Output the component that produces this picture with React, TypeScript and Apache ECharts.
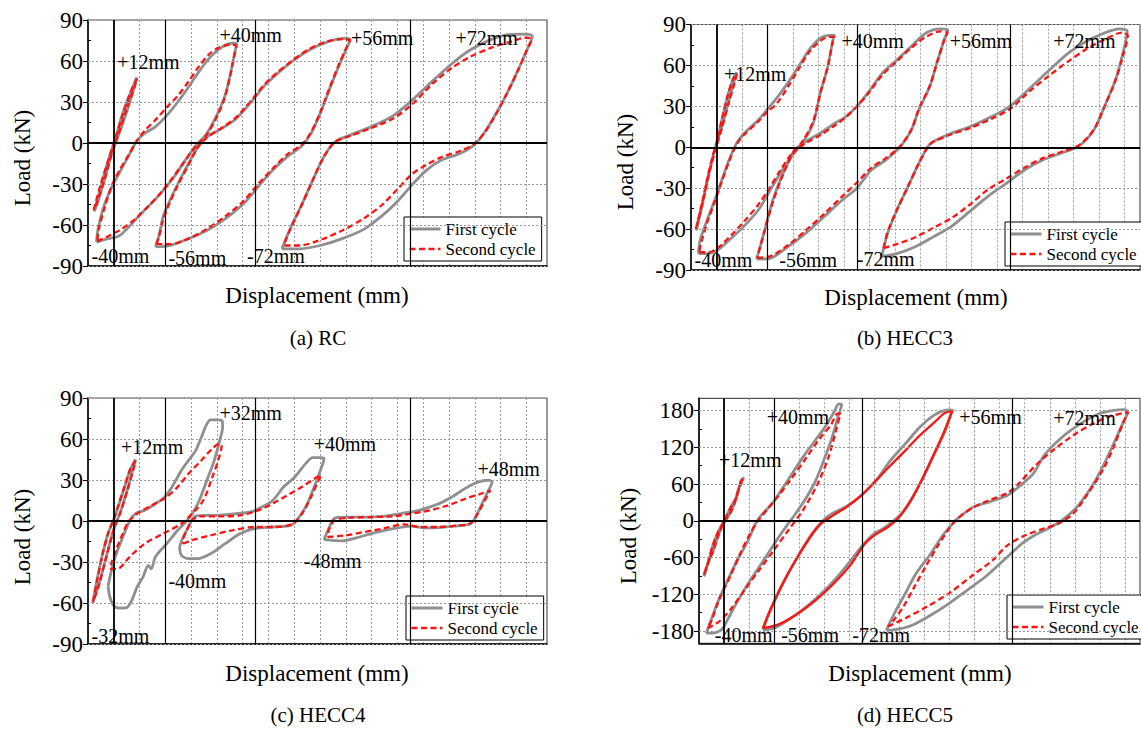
import React, { useEffect, useRef } from 'react';
import * as echarts from 'echarts';

type Pt = [number, number];
type Note = [number, number, string];

// Horizontal axis: displacement stages laid side by side (grid-cell units), vertical axis: load (kN).

// ---------- (a) RC ----------
const rcFirst12: Pt[] = [[0.24,-50],[0.50,-32],[0.78,-13],[1.04,2],[1.35,22],[1.63,36],[1.89,48],[1.80,41],[1.52,24],[1.21,7],[0.92,-8],[0.64,-27],[0.35,-45]];
const rcFirst40: Pt[] = [[0.33,-72.6],[0.78,-70],[1.21,-68],[1.70,-59],[2.20,-49],[2.77,-38],[3.33,-25],[3.76,-13],[4.18,-2],[4.61,7],[5.04,22],[5.32,35],[5.53,51],[5.67,64],[5.77,73],[5.60,73],[5.18,70],[4.75,63],[4.33,53],[3.90,41],[3.48,30],[3.05,20],[2.62,12],[2.20,7],[1.91,2],[1.56,-10],[1.21,-22],[0.85,-35],[0.57,-49],[0.38,-64]];
const rcFirst56: Pt[] = [[2.62,-76],[3.19,-75],[3.90,-70],[4.61,-64],[5.32,-55.5],[6.03,-44.5],[6.60,-32],[7.16,-20],[7.73,-10],[8.30,-2],[8.65,7],[9.0,21.5],[9.36,39],[9.72,56],[10.0,68],[10.17,76],[9.93,76.5],[9.29,74],[8.58,68],[7.87,59],[7.30,50],[6.85,42],[6.5,34],[6.1,25],[5.7,17],[5.18,10.5],[4.61,4.4],[4.26,-3],[3.90,-15],[3.48,-30],[3.12,-44.5],[2.91,-54],[2.77,-66.5]];
const rcFirst72: Pt[] = [[7.52,-77.5],[8.16,-77.5],[9.0,-75],[9.86,-70],[10.71,-63],[11.42,-53],[11.99,-43],[12.55,-31],[13.12,-20],[13.69,-12.7],[14.40,-7.8],[14.96,-1.7],[15.39,8],[15.82,21.5],[16.24,36],[16.67,53],[17.02,68],[17.23,78],[16.95,79.7],[16.38,79.5],[15.67,76],[14.82,68],[14.11,58],[13.40,46],[12.55,31],[11.84,20],[10.99,12],[10.14,5.6],[9.57,0.7],[9.15,-10],[8.72,-27],[8.30,-44.5],[7.87,-61.6],[7.59,-74]];
const rcSecond12: Pt[] = [[0.22,-49],[0.48,-31],[0.80,-12],[1.06,3],[1.37,22],[1.65,37],[1.90,47],[1.82,42],[1.50,25],[1.20,8],[0.90,-9],[0.62,-28],[0.34,-44]];
const rcSecond40: Pt[] = [[0.36,-72],[0.80,-68],[1.30,-63],[1.80,-56],[2.30,-47],[2.80,-37],[3.30,-25],[3.76,-13],[4.20,-2],[4.60,6],[5.02,20],[5.30,33],[5.52,50],[5.66,63],[5.75,71],[5.55,72],[5.10,70],[4.70,65],[4.30,56],[3.90,45],[3.50,35],[3.10,27],[2.62,17],[2.20,9],[1.91,2],[1.60,-8],[1.25,-19],[0.95,-30],[0.65,-47],[0.42,-63]];
const rcSecond56: Pt[] = [[2.65,-74],[3.2,-74],[3.9,-70],[4.6,-63],[5.3,-54],[6.0,-43],[6.6,-30],[7.2,-18],[7.75,-8],[8.3,-1],[8.65,8],[9.0,22],[9.36,40],[9.72,57],[10.0,69],[10.15,75],[9.9,76],[9.3,74.5],[8.6,69],[7.9,60],[7.3,51],[6.85,43],[6.5,35],[6.1,26],[5.7,18],[5.18,11],[4.61,4],[4.26,-3],[3.90,-16],[3.48,-31],[3.12,-46],[2.9,-57],[2.76,-68]];
const rcSecond72: Pt[] = [[7.62,-75],[8.2,-75],[9.0,-71],[9.86,-64],[10.71,-55],[11.42,-45],[11.99,-34],[12.55,-23],[13.12,-16],[13.69,-10.5],[14.40,-6],[14.96,-1],[15.39,8],[15.82,21],[16.24,36],[16.67,53],[17.02,68],[17.2,76],[16.95,77],[16.38,74],[15.67,70],[14.82,63],[14.11,55],[13.40,44],[12.55,28],[11.84,18],[10.99,11],[10.14,5],[9.57,0.7],[9.15,-10],[8.72,-27],[8.30,-45],[7.87,-62],[7.65,-72]];
const rcNotes: Note[] = [[1.13,59,'+12mm'],[5.1,79,'+40mm'],[10.2,77,'+56mm'],[14.25,77,'+72mm'],[0.14,-83,'-40mm'],[3.12,-84,'-56mm'],[6.17,-83,'-72mm']];

// ---------- (b) HECC3 ----------
const h3First12: Pt[] = [[0.21,-61],[0.43,-43.6],[0.64,-24],[0.86,-6.9],[1.0,2.9],[1.21,20],[1.43,37],[1.64,49.5],[1.79,55],[1.71,49.5],[1.5,35],[1.21,15],[0.93,-2],[0.71,-19],[0.47,-39],[0.24,-58]];
const h3First40: Pt[] = [[0.29,-78],[0.64,-78],[1.07,-75],[1.5,-68],[2.07,-58],[2.64,-46],[3.07,-32.6],[3.5,-19],[3.93,-6.9],[4.36,2.9],[4.79,17.6],[5.07,39.7],[5.36,59],[5.57,79],[5.64,82],[5.43,82],[5.07,80],[4.64,71.6],[4.21,59],[3.79,47],[3.36,36],[3.0,28],[2.64,20],[2.07,10],[1.79,3],[1.5,-9],[1.21,-24],[0.93,-38.7],[0.64,-53],[0.36,-68]];
const h3First56: Pt[] = [[2.57,-82],[3.07,-81.6],[3.79,-73],[4.5,-63],[5.21,-51],[5.93,-38.7],[6.5,-30],[7.07,-16.7],[7.64,-9.3],[8.21,0.5],[8.64,12.7],[8.93,27.5],[9.36,44.6],[9.64,61.8],[9.93,79],[10.07,86],[9.79,86.8],[9.21,83.8],[8.64,74],[8.07,64],[7.5,54.4],[6.93,39.7],[6.5,30],[6.07,22.5],[5.64,17.6],[5.07,10.3],[4.5,4.2],[4.07,-2],[3.79,-11.8],[3.5,-24],[3.21,-38.7],[2.93,-58],[2.71,-73]];
const h3First72: Pt[] = [[7.47,-80],[8.07,-78],[8.79,-73],[9.5,-65.7],[10.21,-58],[10.93,-47],[11.64,-36],[12.36,-26.5],[13.07,-16.7],[13.79,-9.3],[14.5,-4.4],[15.21,1],[15.79,12.7],[16.21,30],[16.64,49.5],[16.93,69],[17.1,85],[16.79,86.8],[16.21,83.8],[15.5,77.7],[14.79,69],[14.07,57],[13.21,42],[12.5,30],[11.79,22.5],[10.93,15],[10.21,10.3],[9.5,4.2],[9.29,0.5],[8.93,-11.8],[8.5,-29],[8.07,-46],[7.71,-63],[7.5,-78]];
const h3Second12: Pt[] = [[0.19,-60],[0.42,-42],[0.64,-23],[0.87,-5],[1.0,3],[1.22,21],[1.44,38],[1.65,50],[1.8,54],[1.72,48],[1.5,34],[1.21,14],[0.94,-3],[0.7,-20],[0.46,-40],[0.22,-58]];
const h3Second40: Pt[] = [[0.32,-77],[0.7,-77],[1.1,-73],[1.55,-65],[2.1,-54],[2.64,-42],[3.07,-30],[3.5,-17],[3.93,-5],[4.36,4],[4.79,19],[5.07,40],[5.36,59],[5.55,77],[5.62,81],[5.43,81],[5.07,78],[4.64,70],[4.21,57],[3.79,44],[3.36,32],[3.0,26],[2.64,19],[2.07,9],[1.79,2],[1.5,-10],[1.21,-25],[0.93,-40],[0.64,-55],[0.4,-70]];
const h3Second56: Pt[] = [[2.6,-81],[3.1,-80],[3.79,-72],[4.5,-61],[5.21,-49],[5.93,-36],[6.5,-26],[7.07,-15],[7.64,-8],[8.21,1],[8.64,13],[8.93,28],[9.36,45],[9.64,62],[9.93,79],[10.05,84],[9.79,85],[9.21,81],[8.64,73],[8.07,63],[7.5,53],[6.93,39],[6.5,30],[6.07,22],[5.64,16],[5.07,9],[4.5,3],[4.07,-3],[3.79,-12],[3.5,-25],[3.21,-40],[2.93,-58],[2.71,-73]];
const h3Second72: Pt[] = [[7.55,-74],[8.07,-71],[8.79,-66],[9.5,-59],[10.21,-52],[10.93,-42],[11.64,-31],[12.36,-23],[13.07,-15],[13.79,-8],[14.5,-3.5],[15.21,1.5],[15.79,13],[16.21,30],[16.64,49],[16.93,67],[17.12,82],[16.9,84],[16.21,79],[15.5,72],[14.79,63],[14.07,53],[13.21,40],[12.5,28],[11.79,21],[10.93,14],[10.21,9.5],[9.5,4],[9.29,0.5],[8.93,-11.8],[8.5,-29],[8.07,-46],[7.71,-62]];
const h3Notes: Note[] = [[1.29,54,'+12mm'],[5.9,78,'+40mm'],[10.14,78,'+56mm'],[14.2,78,'+72mm'],[0.14,-83,'-40mm'],[3.46,-83,'-56mm'],[6.5,-82,'-72mm']];

// ---------- (c) HECC4 ----------
const h4First12: Pt[] = [[0.18,-60],[0.35,-43],[0.57,-24],[0.78,-9],[0.99,0.5],[1.21,12.7],[1.42,25],[1.63,37],[1.84,45],[1.77,39.5],[1.56,25],[1.28,7.8],[0.99,-6.8],[0.71,-26],[0.43,-46],[0.2,-59]];
const h4First32: Pt[] = [[0.78,-48],[0.85,-55.6],[0.99,-61.7],[1.21,-63.7],[1.49,-63.4],[1.70,-58],[1.91,-48],[2.13,-41],[2.34,-32.4],[2.45,-35],[2.62,-26],[3.05,-16.6],[3.48,-6.8],[3.9,1.7],[4.26,12.7],[4.61,29.8],[4.89,44],[5.11,59],[5.22,68.8],[5.21,73],[5.04,74],[4.75,74],[4.61,71],[4.4,61.5],[4.18,51.7],[3.9,44.4],[3.62,37],[3.26,25],[2.98,17.6],[2.62,12.7],[2.2,7.8],[1.84,5.4],[1.63,0.5],[1.35,-11.7],[1.06,-26],[0.85,-41]];
const h4First40: Pt[] = [[3.55,-19],[3.62,-25],[3.9,-27.6],[4.26,-27.6],[4.75,-24],[5.32,-16.6],[5.89,-9.3],[6.45,-5.6],[7.16,-4.4],[7.87,-3.2],[8.09,0.5],[8.44,10.2],[8.72,22.4],[9.01,37],[9.15,45.6],[9.01,46.3],[8.72,46.3],[8.44,42],[8.01,32],[7.59,25],[7.16,15],[6.74,10.2],[6.31,6.6],[5.74,5.4],[5.04,4.1],[4.47,4.1],[4.11,2.9],[3.9,-4.4],[3.69,-11.7]];
const h4First48: Pt[] = [[9.15,-13.7],[9.86,-14.6],[10.43,-12.2],[11.13,-8.5],[11.84,-5.6],[12.55,-3.7],[13.12,-5.1],[13.83,-4.4],[14.75,-2.4],[14.96,0.5],[15.25,11.5],[15.53,22.4],[15.67,28.5],[15.53,29.8],[15.11,28.5],[14.68,24.4],[14.11,17.6],[13.55,12.2],[12.84,7.8],[12.13,5.4],[11.42,3.4],[10.71,2.9],[10.0,2.9],[9.57,2.2],[9.36,-4.4]];
const h4Second12: Pt[] = [[0.2,-59],[0.37,-42],[0.58,-23],[0.8,-8],[1.0,1.5],[1.22,14],[1.43,26],[1.64,38],[1.85,44],[1.76,38],[1.55,24],[1.27,7],[0.98,-7.5],[0.7,-27],[0.42,-47]];
const h4Second32: Pt[] = [[0.85,-35],[1.13,-35],[1.63,-26],[2.2,-16.6],[2.91,-9.3],[3.62,-2],[4.04,5.4],[4.47,15],[4.82,32],[5.04,44],[5.18,55],[5.11,56.6],[4.82,53],[4.4,44.4],[3.9,34.6],[3.48,25],[3.05,17.6],[2.48,11.5],[1.91,5.4],[1.56,-0.7],[1.35,-9.3],[1.13,-19],[0.92,-30]];
const h4Second40: Pt[] = [[3.69,-16.6],[4.04,-14],[4.75,-10.5],[5.6,-6.8],[6.45,-4.4],[7.30,-4.4],[7.94,-2],[8.3,5.4],[8.65,17.6],[8.94,29.8],[9.04,33.4],[8.87,32],[8.3,25],[7.73,18.8],[7.16,12.7],[6.6,7.8],[5.89,4.1],[5.04,3.4],[4.33,3.4],[4.04,0.5],[3.83,-6.8],[3.69,-14]];
const h4Second48: Pt[] = [[9.29,-11.7],[10.0,-10.5],[10.71,-8],[11.42,-5.6],[12.27,-2.4],[12.84,-4.4],[13.55,-4.4],[14.4,-3.2],[14.82,-2],[15.11,5.4],[15.39,15],[15.6,22.4],[15.25,20],[14.68,16.6],[13.97,11.5],[13.26,7.8],[12.55,5.4],[11.84,3.4],[10.99,2.9],[10.14,2.4],[9.57,0.5],[9.36,-5.6]];
const h4Notes: Note[] = [[1.28,54,'+12mm'],[5.1,79,'+32mm'],[8.75,56,'+40mm'],[15.1,38,'+48mm'],[0.14,-84,'-32mm'],[3.12,-44,'-40mm'],[8.37,-29.5,'-48mm']];

// ---------- (d) HECC5 ----------
const h5First12: Pt[] = [[0.19,-90],[0.36,-69.5],[0.58,-47.8],[0.8,-20.6],[1.02,-1.6],[1.24,12],[1.46,33.7],[1.6,55],[1.79,70.6],[1.68,66],[1.5,39],[1.27,22.8],[1.02,1],[0.8,-15],[0.58,-37],[0.39,-64],[0.22,-88.5]];
const h5First40: Pt[] = [[0.29,-183.5],[0.66,-182.4],[0.92,-177],[1.17,-159],[1.53,-132],[1.97,-102],[2.41,-75],[2.84,-48],[3.28,-20.6],[3.57,-4.3],[3.86,12],[4.3,39],[4.66,66],[5.03,104],[5.32,137],[5.54,169],[5.69,190],[5.58,191],[5.39,177.6],[5.03,153],[4.59,128.7],[4.15,104],[3.72,77],[3.28,50],[2.92,28],[2.55,12],[2.26,-4.3],[1.97,-31.5],[1.53,-64],[1.09,-102],[0.73,-134.7],[0.44,-167]];
const h5First56: Pt[] = [[2.55,-178],[2.99,-175.4],[3.57,-161.8],[4.3,-140],[5.03,-113],[5.76,-80],[6.49,-42.4],[6.92,-23.3],[7.36,-12.5],[7.8,1],[8.09,12],[8.53,39],[8.96,71.7],[9.4,109.7],[9.84,147.7],[10.06,174.8],[10.13,180],[9.99,181],[9.4,173],[8.82,153],[8.24,126],[7.65,99],[7.07,66],[6.49,41.8],[5.9,24],[5.32,12],[4.96,1],[4.52,-20.6],[3.94,-58.6],[3.35,-102],[2.92,-140],[2.62,-170]];
const h5First72: Pt[] = [[7.48,-179],[7.94,-177],[8.53,-170],[9.26,-153.7],[9.99,-134.7],[10.71,-113],[11.44,-91],[12.17,-64],[12.9,-37],[13.48,-21.7],[14.07,-9.8],[14.5,1],[15.09,22.8],[15.67,55.4],[16.11,88],[16.55,126],[16.91,158.6],[17.1,177.6],[16.98,181.4],[16.55,180.3],[15.96,174.8],[15.23,158.6],[14.5,136.8],[13.78,107],[13.34,77],[12.76,55.4],[12.32,41.8],[11.59,31],[10.98,22.8],[10.4,6.5],[10.13,-4.3],[9.69,-26],[9.26,-53],[8.67,-85.8],[8.24,-118],[7.8,-151],[7.54,-172.7]];
const h5Second12: Pt[] = [[0.2,-88],[0.37,-68],[0.59,-46],[0.81,-19],[1.03,0],[1.25,13],[1.47,35],[1.61,56],[1.78,68],[1.67,64],[1.49,38],[1.26,21],[1.01,0],[0.79,-16],[0.57,-38],[0.38,-65]];
const h5Second40: Pt[] = [[0.34,-175.4],[0.8,-164.5],[1.24,-145.5],[1.82,-113],[2.41,-80],[2.99,-47.8],[3.57,-15.2],[4.15,17.4],[4.74,60.8],[5.17,104],[5.47,147.7],[5.64,175],[5.54,175],[5.25,155.8],[4.81,134],[4.3,104],[3.64,66],[3.13,39],[2.7,17.4],[2.33,-1.6],[2.04,-20.6],[1.65,-53],[1.24,-91],[0.8,-129],[0.51,-162]];
const h5Second56: Pt[] = [[2.55,-175.4],[3.13,-170],[3.86,-153.7],[4.59,-132],[5.32,-104.8],[6.05,-72],[6.63,-37],[7.07,-21.7],[7.51,-10.9],[7.94,3.8],[8.38,28],[8.82,60.8],[9.26,98.8],[9.69,136.8],[9.99,166.7],[10.1,179],[9.99,178.6],[9.77,175],[9.4,161],[8.82,139.6],[8.24,115],[7.65,90.7],[7.07,66],[6.49,41.8],[5.9,22.8],[5.32,8],[4.88,-4.3],[4.45,-26],[3.86,-64],[3.28,-107.5],[2.84,-145.5]];
const h5Second72: Pt[] = [[7.54,-172.7],[8.24,-159],[9.11,-140],[9.99,-118],[10.86,-91],[11.73,-64],[12.32,-39.6],[13.05,-23.3],[13.78,-12.5],[14.36,-4.3],[14.94,12],[15.52,44.5],[16.11,82.5],[16.55,120.5],[16.91,158.6],[17.13,177.6],[17.01,176.5],[16.4,170.5],[15.67,157.5],[14.94,139.6],[14.21,117.8],[13.48,92.3],[12.76,60.8],[12.32,45.6],[11.59,33.7],[10.86,20],[10.28,2.2],[9.99,-12.5],[9.55,-39.6],[9.04,-75],[8.6,-107.5],[8.16,-140],[7.73,-164.5]];
const h5Notes: Note[] = [[0.8,100,'+12mm'],[2.7,170,'+40mm'],[10.39,170,'+56mm'],[14.14,168,'+72mm'],[0.63,-186,'-40mm'],[3.28,-186,'-56mm'],[6.12,-186,'-72mm']];

// shared axis ticks / reference lines
const stageLines = [1, 3, 6.5, 12.5];
const loadTicks90 = [-90, -60, -30, 0, 30, 60, 90];
const loadMinor90 = [-75, -45, -15, 15, 45, 75];
const loadTicks180 = [-180, -120, -60, 0, 60, 120, 180];
const loadMinor180 = [-150, -90, -30, 30, 90, 150];

const FIRST = 'First cycle';
const SECOND = 'Second cycle';
const FONT = 'Liberation Serif';
const GRAY = '#8f8f8f';
const RED = '#ff1212';
const DASH = [6, 3.5];

const panels = [
  { caption: '(a) RC', first: [rcFirst12, rcFirst40, rcFirst56, rcFirst72], second: [rcSecond12, rcSecond40, rcSecond56, rcSecond72], notes: rcNotes,
    yMin: -90, yMax: 90, ticks: loadTicks90, minor: loadMinor90, solidSecond: [] as number[],
    grid: { left: 88, top: 20, width: 459, height: 246 }, xMax: 17.8, legend: [404, 217], xName: [317, 295], yName: [22, 158], cap: [318, 338] },
  { caption: '(b) HECC3', first: [h3First12, h3First40, h3First56, h3First72], second: [h3Second12, h3Second40, h3Second56, h3Second72], notes: h3Notes,
    yMin: -90, yMax: 90, ticks: loadTicks90, minor: loadMinor90, solidSecond: [] as number[],
    grid: { left: 691, top: 24.5, width: 449, height: 245.5 }, xMax: 17.6, legend: [1005, 222], xName: [916, 297], yName: [625, 162], cap: [905, 338] },
  { caption: '(c) HECC4', first: [h4First12, h4First32, h4First40, h4First48], second: [h4Second12, h4Second32, h4Second40, h4Second48], notes: h4Notes,
    yMin: -90, yMax: 90, ticks: loadTicks90, minor: loadMinor90, solidSecond: [] as number[],
    grid: { left: 88, top: 398, width: 459, height: 246 }, xMax: 17.8, legend: [406, 596], xName: [317, 673], yName: [22, 537], cap: [318, 715] },
  { caption: '(d) HECC5', first: [h5First12, h5First40, h5First56, h5First72], second: [h5Second12, h5Second40, h5Second56, h5Second72], notes: h5Notes,
    yMin: -200, yMax: 200, ticks: loadTicks180, minor: loadMinor180, solidSecond: [2],
    grid: { left: 699, top: 398.3, width: 441, height: 245 }, xMax: 17.6, legend: [1007, 595], xName: [920, 673], yName: [628, 536], cap: [905, 715] },
];

const closeLoop = (loop: Pt[]): Pt[] => [...loop, loop[0]];

function buildOption() {
  const grid: any[] = [];
  const xAxis: any[] = [];
  const yAxis: any[] = [];
  const series: any[] = [];
  const legend: any[] = [];
  const graphic: any[] = [];

  panels.forEach((p, i) => {
    grid.push({ ...p.grid, show: true, borderColor: '#555', borderWidth: 1.2, backgroundColor: 'transparent' });
    xAxis.push({
      type: 'value', gridIndex: i, min: 0, max: p.xMax, interval: 1,
      axisLine: { show: true, onZero: false, lineStyle: { color: '#000', width: 1.5 } },
      axisTick: { show: false }, axisLabel: { show: false },
      splitLine: { show: true, lineStyle: { color: '#9a9a9a', width: 1, type: [2, 2] } },
    });
    // main load axis
    yAxis.push({
      type: 'value', gridIndex: i, min: p.yMin, max: p.yMax,
      axisLine: { show: true, onZero: false, lineStyle: { color: '#000', width: 1.5 } },
      axisTick: { show: true, length: 5, customValues: p.ticks, lineStyle: { color: '#000', width: 1 } },
      axisLabel: { show: true, customValues: p.ticks, color: '#000', fontFamily: FONT, fontSize: 23, margin: 5 },
      splitLine: { show: false },
    });
    const yIdx = yAxis.length - 1;
    // minor ticks on the load axis
    yAxis.push({
      type: 'value', gridIndex: i, min: p.yMin, max: p.yMax,
      axisLine: { show: false }, axisLabel: { show: false }, splitLine: { show: false },
      axisTick: { show: true, length: 3, customValues: p.minor, lineStyle: { color: '#000', width: 1 } },
    });

    // reference lines: load grid lines, zero line, stage separators
    series.push({
      type: 'scatter', xAxisIndex: i, yAxisIndex: yIdx, data: [[0, 0]], symbolSize: 0, silent: true, z: 1,
      markLine: {
        silent: true, symbol: ['none', 'none'], label: { show: false }, animation: false,
        data: [
          ...p.ticks.filter((v) => v !== 0).map((v) => ({ yAxis: v, lineStyle: { color: '#9a9a9a', width: 1, type: [2, 2] } })),
          ...stageLines.map((v, k) => ({ xAxis: v, lineStyle: { color: '#000', width: k === 0 ? 1.8 : 1.2, type: 'solid' } })),
          { yAxis: 0, lineStyle: { color: '#000', width: 2, type: 'solid' } },
        ],
      },
    });

    p.first.forEach((loop) => {
      series.push({
        type: 'line', name: FIRST, xAxisIndex: i, yAxisIndex: yIdx, data: closeLoop(loop),
        symbol: 'none', smooth: 0.3, silent: true, z: 3,
        lineStyle: { color: GRAY, width: 2.8, type: 'solid' }, itemStyle: { color: GRAY },
      });
    });
    p.second.forEach((loop, k) => {
      const solid = p.solidSecond.includes(k);
      series.push({
        type: 'line', name: SECOND, xAxisIndex: i, yAxisIndex: yIdx, data: closeLoop(loop),
        symbol: 'none', smooth: 0.3, silent: true, z: 4,
        lineStyle: { color: RED, width: 2.3, type: solid ? 'solid' : DASH }, itemStyle: { color: RED },
      });
    });

    series.push({
      type: 'scatter', xAxisIndex: i, yAxisIndex: yIdx, symbolSize: 0, silent: true, z: 6,
      itemStyle: { opacity: 1 },
      data: p.notes.map(([x, y, t]) => ({ value: [x, y], name: t })),
      label: { show: true, formatter: '{b}', position: [0, 0], align: 'left', verticalAlign: 'middle', color: '#000', opacity: 1, textBorderWidth: 0, fontFamily: FONT, fontSize: 20 },
    });

    legend.push({
      data: [
        { name: FIRST, itemStyle: { opacity: 0 }, lineStyle: { color: GRAY, width: 3, type: 'solid' } },
        { name: SECOND, itemStyle: { opacity: 0 }, lineStyle: { color: RED, width: 2.4, type: DASH } },
      ],
      orient: 'vertical', left: p.legend[0], top: p.legend[1],
      backgroundColor: '#fff', borderColor: '#000', borderWidth: 1, borderRadius: 0,
      padding: [3, 6, 3, 4], itemGap: 2, itemWidth: 31, itemHeight: 12, selectedMode: false,
      textStyle: { fontFamily: FONT, fontSize: 17, color: '#000', lineHeight: 18 },
    });

    graphic.push(
      { type: 'text', x: p.xName[0], y: p.xName[1], silent: true,
        style: { text: 'Displacement (mm)', fill: '#000', fontFamily: FONT, fontSize: 23, align: 'center', verticalAlign: 'middle' } },
      { type: 'text', x: p.yName[0], y: p.yName[1], rotation: Math.PI / 2, silent: true,
        style: { text: 'Load (kN)', fill: '#000', fontFamily: FONT, fontSize: 23, align: 'center', verticalAlign: 'middle' } },
      { type: 'text', x: p.cap[0], y: p.cap[1], silent: true,
        style: { text: p.caption, fill: '#000', fontFamily: FONT, fontSize: 21, align: 'center', verticalAlign: 'middle' } },
    );
  });

  return { animation: false, backgroundColor: '#fff', grid, xAxis, yAxis, series, legend, graphic };
}

export default function App() {
  const ref = useRef<HTMLDivElement>(null);
  useEffect(() => {
    if (!ref.current) return;
    const chart = echarts.init(ref.current, undefined, { renderer: 'svg' });
    chart.setOption(buildOption() as any);
    return () => chart.dispose();
  }, []);
  return <div ref={ref} style={{ position: 'absolute', left: 0, top: 0, width: 1141, height: 731 }} />;
}
